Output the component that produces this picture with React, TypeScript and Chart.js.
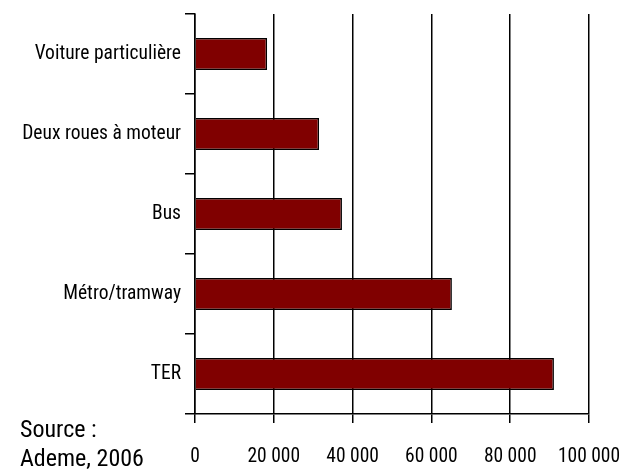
import React, { useEffect, useRef } from "react";
import { Chart, registerables } from "chart.js";

Chart.register(...registerables);

const categories = [
  "Voiture particulière",
  "Deux roues à moteur",
  "Bus",
  "Métro/tramway",
  "TER",
];
const values = [18300, 31500, 37300, 65200, 91100];
const xTicks = [0, 20000, 40000, 60000, 80000, 100000];
const sourceLines = ["Source :", "Ademe, 2006"];

const FONT = "'Roboto Condensed', 'Liberation Sans Narrow', 'Arial Narrow', sans-serif";

function fmt(v: number): string {
  return String(v).replace(/\B(?=(\d{3})+(?!\d))/g, " ");
}

export default function App() {
  const ref = useRef<HTMLCanvasElement | null>(null);
  useEffect(() => {
    if (!ref.current) return;
    const chart = new Chart(ref.current, {
      type: "bar",
      data: {
        labels: categories,
        datasets: [
          {
            data: values,
            backgroundColor: "#800000",
            borderColor: "#000000",
            borderWidth: 1.5,
            barPercentage: 0.4,
            categoryPercentage: 1,
          },
        ],
      },
      options: {
        indexAxis: "y",
        animation: false,
        responsive: false,
        maintainAspectRatio: false,
        layout: { padding: { left: 0, top: 14, right: 35, bottom: 0 } },
        plugins: { legend: { display: false }, tooltip: { enabled: false } },
        scales: {
          x: {
            type: "linear",
            min: xTicks[0],
            max: xTicks[xTicks.length - 1],
            afterBuildTicks: (axis: any) => {
              axis.ticks = xTicks.map((v) => ({ value: v }));
            },
            afterFit: (axis: any) => {
              axis.height = 57;
              axis.paddingLeft = 0;
              axis.paddingRight = 0;
            },
            ticks: {
              callback: (v: any) => fmt(Number(v)),
              color: "#000",
              font: { family: FONT, size: 19.5 },
              padding: 22,
              maxRotation: 0,
            },
            grid: {
              color: "#000",
              lineWidth: 1.5,
              drawOnChartArea: true,
              drawTicks: true,
              tickLength: 9,
            },
            border: { color: "#000", width: 1.5 },
          },
          y: {
            type: "category",
            afterFit: (axis: any) => {
              axis.width = 195;
              axis.paddingTop = 0;
              axis.paddingBottom = 0;
            },
            ticks: {
              color: "#000",
              font: { family: FONT, size: 19.5 },
              padding: 4,
            },
            grid: {
              offset: true,
              color: "#000",
              lineWidth: 1.5,
              drawOnChartArea: false,
              drawTicks: true,
              tickLength: 10,
            },
            border: { color: "#000", width: 1.5 },
          },
        },
      },
    });
    return () => chart.destroy();
  }, []);

  return (
    <div style={{ position: "fixed", left: 0, top: 0, width: 624, height: 471, background: "#fff" }}>
      <canvas ref={ref} width={624} height={471} style={{ display: "block" }} />
      <div
        style={{
          position: "absolute",
          left: 20,
          top: 415,
          fontFamily: FONT,
          fontSize: 24,
          lineHeight: "29px",
          color: "#000",
          whiteSpace: "nowrap",
        }}
      >
        {sourceLines.map((l, i) => (
          <div key={i}>{l}</div>
        ))}
      </div>
    </div>
  );
}
